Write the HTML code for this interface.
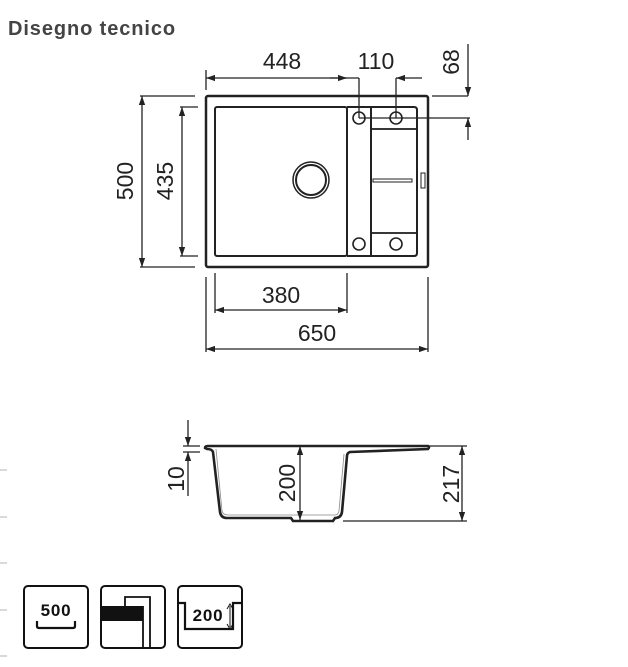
<!DOCTYPE html>
<html><head><meta charset="utf-8"><style>
html,body{margin:0;padding:0;background:#fff;width:628px;height:667px;overflow:hidden}
svg{position:absolute;left:0;top:0}
</style></head><body>
<svg width="628" height="667" viewBox="0 0 628 667" xmlns="http://www.w3.org/2000/svg">
<defs>
<marker id="a" viewBox="0 0 10 10" refX="10" refY="5" markerWidth="9" markerHeight="9" markerUnits="userSpaceOnUse" orient="auto-start-reverse"><path d="M0,1.5 L10,5 L0,8.5 z" fill="#222"/></marker>
</defs>
<text x="8" y="35" font-family="Liberation Sans, sans-serif" font-weight="bold" font-size="20" letter-spacing="0.9" fill="#444">Disegno tecnico</text>
<g stroke="#222" fill="none">
<rect x="206" y="96" width="222" height="171" rx="2" stroke-width="2.5"/>
<rect x="215" y="107" width="132" height="149" rx="2" stroke-width="2"/>
<path d="M347,107 H414 Q417,107 417,110 V253 Q417,256 414,256 H347" stroke-width="2"/>
<line x1="371" y1="107" x2="371" y2="256" stroke-width="2"/>
<rect x="371" y="129" width="46" height="104" stroke-width="1.8"/>
<circle cx="359" cy="118" r="6" stroke-width="1.6"/>
<circle cx="396" cy="118" r="6" stroke-width="1.6"/>
<circle cx="359" cy="244" r="6" stroke-width="1.6"/>
<circle cx="396" cy="244" r="6" stroke-width="1.6"/>
<circle cx="311" cy="180" r="18" stroke-width="1.5"/>
<circle cx="311" cy="180" r="15" stroke-width="2"/>
<rect x="373" y="179" width="39" height="3" stroke-width="1"/>
<rect x="421" y="173" width="4" height="15" stroke-width="1"/>
<g stroke-width="1.3">
<line x1="206" y1="70" x2="206" y2="90"/>
<line x1="206" y1="78" x2="347" y2="78" marker-start="url(#a)" marker-end="url(#a)"/>
<line x1="359" y1="78" x2="359" y2="118"/>
<line x1="396" y1="78" x2="396" y2="118"/>
<line x1="330" y1="78" x2="359" y2="78"/>
<line x1="422" y1="78" x2="396" y2="78" marker-end="url(#a)"/>
<line x1="432" y1="96" x2="468" y2="96"/>
<line x1="359" y1="118" x2="470" y2="118"/>
<line x1="468" y1="44" x2="468" y2="96" marker-end="url(#a)"/>
<line x1="468" y1="140" x2="468" y2="118" marker-end="url(#a)"/>
<line x1="140" y1="96" x2="195" y2="96"/>
<line x1="140" y1="267" x2="195" y2="267"/>
<line x1="142" y1="96" x2="142" y2="267" marker-start="url(#a)" marker-end="url(#a)"/>
<line x1="180" y1="107" x2="198" y2="107"/>
<line x1="180" y1="256" x2="198" y2="256"/>
<line x1="182" y1="107" x2="182" y2="256" marker-start="url(#a)" marker-end="url(#a)"/>
<line x1="215" y1="273" x2="215" y2="313"/>
<line x1="347" y1="273" x2="347" y2="313"/>
<line x1="215" y1="310" x2="347" y2="310" marker-start="url(#a)" marker-end="url(#a)"/>
<line x1="206" y1="277" x2="206" y2="352"/>
<line x1="428" y1="277" x2="428" y2="352"/>
<line x1="206" y1="349" x2="428" y2="349" marker-start="url(#a)" marker-end="url(#a)"/>
</g>
<path d="M205,448 Q205,446 208,446 H428 Q430,447 428,449 L350,452 Q347,453 347,456 L342,512 Q341,518 335,518 L333,521 H293 L291,518 H227 Q221,518 220,512 L213,452 Q212,449 207,449 Z" stroke-width="2.6"/>
<path d="M216,449 L222,511 Q223,515 228,515 H335 Q338,515 339,511 L344,454" stroke="#888" stroke-width="0.8"/>
<g stroke-width="1.3">
<line x1="300" y1="446" x2="300" y2="520" marker-start="url(#a)" marker-end="url(#a)"/>
<line x1="428" y1="446" x2="467" y2="446"/>
<line x1="343" y1="521" x2="467" y2="521"/>
<line x1="462" y1="446" x2="462" y2="521" marker-start="url(#a)" marker-end="url(#a)"/>
<line x1="183" y1="446" x2="200" y2="446"/>
<line x1="183" y1="452" x2="200" y2="452"/>
<line x1="188" y1="420" x2="188" y2="446" marker-end="url(#a)"/>
<line x1="188" y1="496" x2="188" y2="452" marker-end="url(#a)"/>
</g>
</g>
<g font-family="Liberation Sans, sans-serif" font-size="23" fill="#222" text-anchor="middle">
<text x="282" y="69">448</text>
<text x="376" y="69">110</text>
<text x="281" y="303">380</text>
<text x="317" y="341">650</text>
<text transform="translate(133,181) rotate(-90)">500</text>
<text transform="translate(173,181) rotate(-90)">435</text>
<text transform="translate(459,62) rotate(-90)">68</text>
<text transform="translate(184,479) rotate(-90)">10</text>
<text transform="translate(295,483) rotate(-90)">200</text>
<text transform="translate(459,484) rotate(-90)">217</text>
</g>
<g stroke="#ccc" stroke-width="1.5">
<line x1="0" y1="470" x2="7" y2="470"/><line x1="0" y1="517" x2="7" y2="517"/>
<line x1="0" y1="563" x2="7" y2="563"/><line x1="0" y1="610" x2="7" y2="610"/>
<line x1="0" y1="656" x2="7" y2="656"/>
</g>
<g stroke="#111" fill="none" stroke-width="2">
<rect x="24" y="586" width="64" height="62" rx="4"/>
<rect x="101" y="586" width="64" height="62" rx="4"/>
<rect x="178" y="586" width="64" height="62" rx="4"/>
<path d="M37,621 V626 Q37,628 39,628 H73 Q75,628 75,626 V621" stroke-width="2.2"/>
<rect x="102" y="606" width="41" height="15" fill="#111" stroke="none"/>
<path d="M125,606 V597 H150 V648" stroke-width="1.8"/>
<line x1="143" y1="606" x2="143" y2="648" stroke-width="1.8"/>
<path d="M178,603 H185 V629 H233 V603 H242" stroke-width="2.2"/>
<line x1="230" y1="606" x2="230" y2="627" stroke-width="1"/>
</g>
<path d="M227,609 L230,604 L233,609 M227,624 L230,629 L233,624" stroke="#111" fill="none" stroke-width="1"/>
<g font-family="Liberation Sans, sans-serif" font-weight="bold" font-size="17" letter-spacing="0.8" fill="#111" text-anchor="middle">
<text x="56" y="616">500</text>
<text x="208" y="621">200</text>
</g>
</svg>
</body></html>
